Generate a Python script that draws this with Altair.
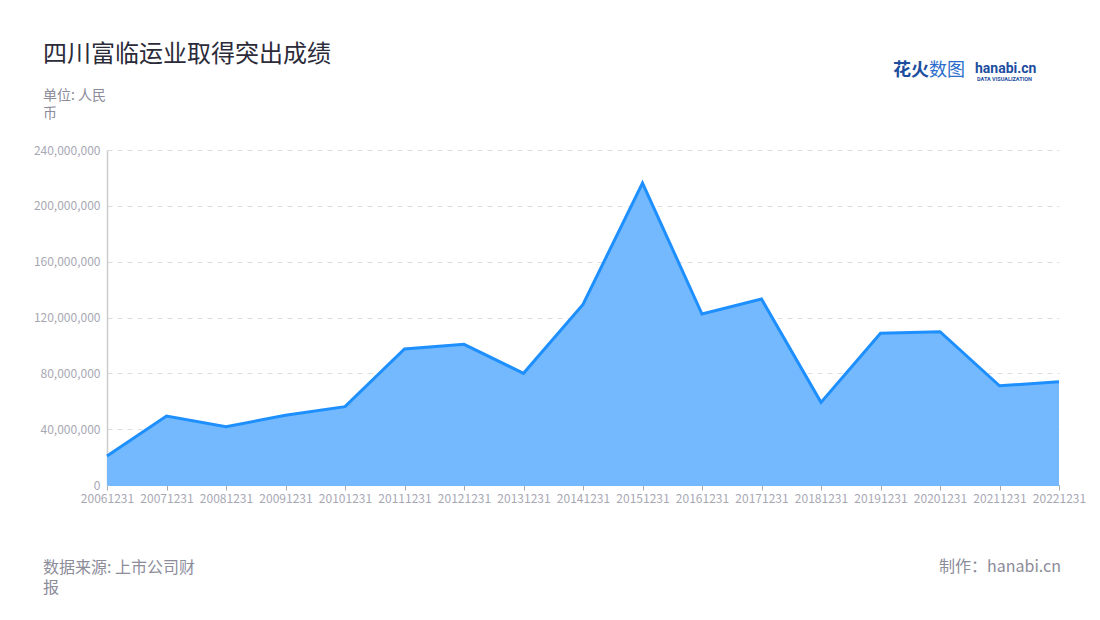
import altair as alt
import pandas as pd

dates = ["20061231", "20071231", "20081231", "20091231", "20101231", "20111231",
         "20121231", "20131231", "20141231", "20151231", "20161231", "20171231",
         "20181231", "20191231", "20201231", "20211231", "20221231"]
values = [20.8e6, 49.4e6, 41.8e6, 49.9e6, 56.1e6, 97.4e6,
          100.8e6, 80.0e6, 129.4e6, 216.3e6, 122.5e6, 133.2e6,
          59.2e6, 108.7e6, 109.8e6, 71.1e6, 74.0e6]
y_ticks = [0, 40e6, 80e6, 120e6, 160e6, 200e6, 240e6]

df = pd.DataFrame({"date": dates, "value": values})

FONT = "Noto Sans CJK SC"
W, H = 952, 335

x_enc = alt.X("date:O", sort=dates,
              scale=alt.Scale(padding=0),
              axis=alt.Axis(title=None, labelAngle=0, labelFontSize=12,
                            labelColor="#a8a8b4", labelFont=FONT,
                            tickColor="#aaaaaa", tickSize=5, labelPadding=3,
                            domainColor="#74b9fd", domainWidth=1,
                            grid=False, labelOverlap=False))
y_enc = alt.Y("value:Q",
              scale=alt.Scale(domain=[0, 240e6], nice=False),
              axis=alt.Axis(title=None, values=y_ticks, format=",d",
                            labelFontSize=12, labelColor="#a8a8b4", labelFont=FONT,
                            ticks=False, labelPadding=7,
                            domainColor="#cccccc", domainWidth=1.5,
                            grid=True, gridColor="#dddddd", gridDash=[5, 5],
                            gridWidth=1))

area = alt.Chart(df).mark_area(color="#74b9fd", opacity=1,
                               line={"color": "#1e8fff", "strokeWidth": 3}).encode(
    x=x_enc, y=y_enc)

one = alt.Data(values=[{}])


def txt(text, x, y, size, color, align="left", weight="normal", font=FONT):
    return alt.Chart(one).mark_text(
        text=text, align=align, baseline="middle", fontSize=size,
        color=color, font=font, fontWeight=weight
    ).encode(x=alt.value(x), y=alt.value(y))


layers = [
    area,
    txt("四川富临运业取得突出成绩", -64, -95, 24, "#2b2b3a"),
    txt("单位: 人民", -64, -54, 14, "#8c8c9a"),
    txt("币", -64, -36.5, 14, "#8c8c9a"),
    txt("数据来源: 上市公司财", -64, 417.5, 16, "#8c8c9a"),
    txt("报", -64, 437.5, 16, "#8c8c9a"),
    txt("制作：hanabi.cn", 954, 417, 16, "#8c8c9a", align="right"),
    txt("花火", 786, -79, 18, "#1d4e9e", weight="bold"),
    txt("数图", 822, -79, 18, "#2c6ecb"),
    txt("hanabi.cn", 868, -81, 14, "#1d4e9e", weight="bold", font="Roboto"),
    txt("DATA VISUALIZATION", 870, -71, 5.5, "#1d4e9e", weight="bold", font="Roboto"),
]

chart = alt.layer(*layers).properties(
    width=W, height=H,
    autosize=alt.AutoSizeParams(type="none"),
    padding={"left": 99, "top": 142, "right": 33, "bottom": 127},
    background="white",
).configure_view(stroke=None)

chart.save("out.html", embed_options={"renderer": "svg", "actions": False})
